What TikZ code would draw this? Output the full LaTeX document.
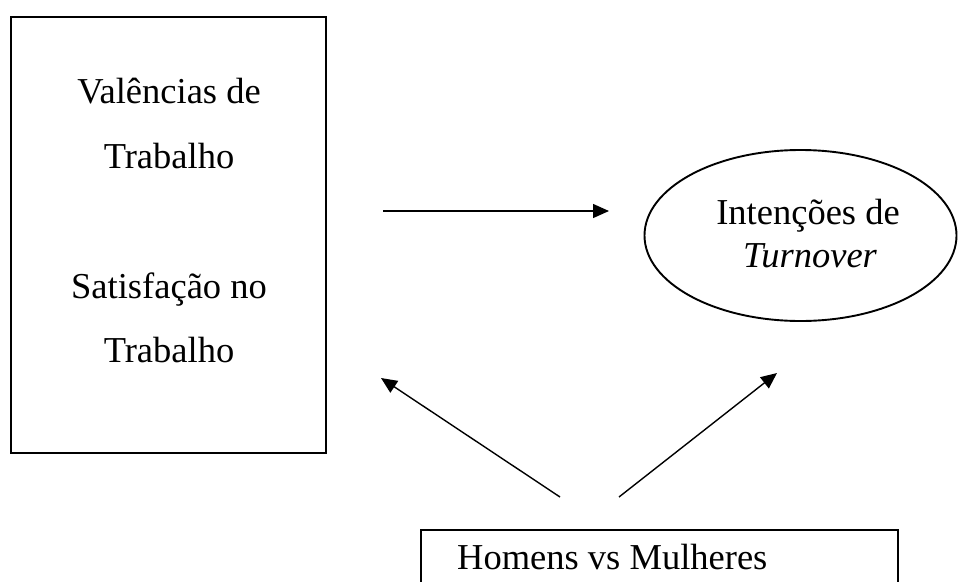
\documentclass[tikz,border=0pt]{standalone}
\usepackage{fontspec}
\setmainfont{Liberation Serif}
\usetikzlibrary{arrows.meta,shapes.geometric}
\begin{document}
\begin{tikzpicture}[x=1pt,y=-1pt,
  txt/.style={font=\fontsize{36.5}{40}\selectfont, inner sep=0pt, anchor=base},
  frame/.style={draw, line width=2pt, inner sep=0pt},
  conn/.style={line width=1.4pt, -{Triangle[length=16pt,width=14pt]}}]
\clip (0,0) rectangle (961,581);
\useasboundingbox (0,0) rectangle (961,581);
% left box
\node[frame, minimum width=315, minimum height=436] (left) at (168.5,235) {};
\node[txt] (v1) at (169,103) {Valências de};
\node[txt] (v2) at (169,168) {Trabalho};
\node[txt] (s1) at (169,298) {Satisfação no};
\node[txt] (s2) at (169,362) {Trabalho};
% ellipse
\node[draw, ellipse, line width=1.9pt, inner sep=0pt, minimum width=312, minimum height=171] (turn) at (800.5,235.5) {};
\node[txt] (t1) at (808,224) {Intenções de};
\node[txt] (t2) at (810,267) {\itshape Turnover};
% bottom box
\node[frame, anchor=north west, minimum width=477, minimum height=100] (sex) at (420,529) {};
\node[txt, anchor=base west] (h) at (457,569) {Homens vs Mulheres};
% connector ends
\coordinate (a1) at (383,211);
\coordinate (a2) at (609,211);
\coordinate (b1) at (560,497);
\coordinate (b2) at (381,378);
\coordinate (c1) at (619,497);
\coordinate (c2) at (777,373);
\draw[conn] (a1) -- (a2);
\draw[conn] (b1) -- (b2);
\draw[conn] (c1) -- (c2);
\end{tikzpicture}
\end{document}
